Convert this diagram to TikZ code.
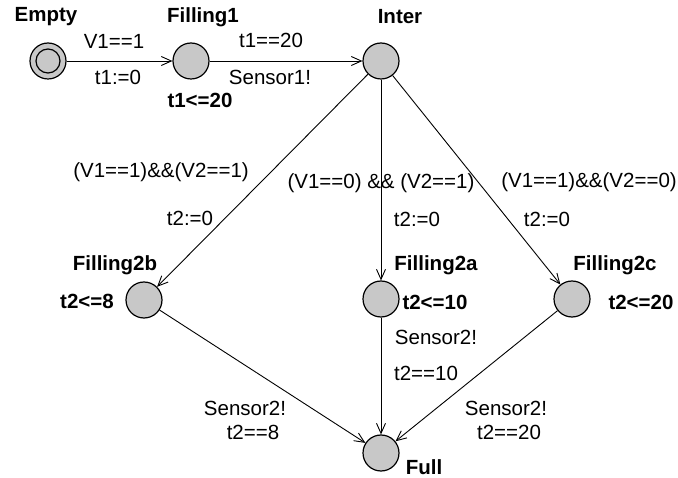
\documentclass[tikz,border=0pt]{standalone}
\usepackage{fontspec}
\setmainfont{Liberation Sans}
\usetikzlibrary{arrows.meta}
\definecolor{statefill}{RGB}{200,200,200}
\begin{document}
\begin{tikzpicture}[x=1pt,y=-1pt,
  state/.style={circle, draw, line width=1.2pt, fill=statefill, minimum size=36pt, inner sep=0pt},
  edge/.style={-{Straight Barb[length=10pt,width=9pt,line width=0.9pt]}, line width=0.9pt},
  lbl/.style={font=\fontsize{20.5}{24}\selectfont, inner sep=0pt},
  nm/.style={font=\fontsize{20.5}{24}\selectfont\bfseries, inner sep=0pt}]
\useasboundingbox (0,0) rectangle (678,478);
% states
\node[state] (Empty) at (48,61) {};
\draw[line width=1.2pt] (Empty.center) circle[radius=12pt];
\node[state] (Filling1) at (191,61) {};
\node[state] (Inter) at (381,61) {};
\node[state] (Filling2b) at (144,300) {};
\node[state] (Filling2a) at (381,299) {};
\node[state] (Filling2c) at (572,299) {};
\node[state] (Full) at (381,453) {};
% state names
\node[nm] (nEmpty) at (46,17) {Empty};
\node[nm] (nFilling1) at (203,17) {Filling1};
\node[nm] (nInter) at (400,17) {Inter};
\node[nm] (nFilling2b) at (115,265) {Filling2b};
\node[nm] (nFilling2a) at (436,265) {Filling2a};
\node[nm] (nFilling2c) at (615,265) {Filling2c};
\node[nm] (nFull) at (424,467) {Full};
% invariants
\node[nm] (iFilling1) at (200,100) {t1<=20};
\node[nm] (iFilling2b) at (87,301) {t2<=8};
\node[nm] (iFilling2a) at (435,302) {t2<=10};
\node[nm] (iFilling2c) at (641,302) {t2<=20};
% edges
\draw[edge] (Empty) -- (Filling1);
\draw[edge] (Filling1) -- (Inter);
\draw[edge] (Inter) -- (Filling2b);
\draw[edge] (Inter) -- (Filling2a);
\draw[edge] (Inter) -- (Filling2c);
\draw[edge] (Filling2b) -- (Full);
\draw[edge] (Filling2a) -- (Full);
\draw[edge] (Filling2c) -- (Full);
% edge labels
\node[lbl] (g1) at (114,41) {V1==1};
\node[lbl] (a1) at (118,77) {t1:=0};
\node[lbl] (g2) at (271,40) {t1==20};
\node[lbl] (s2) at (270,77) {Sensor1!};
\node[lbl] (g3) at (161,172) {(V1==1)\&\&(V2==1)};
\node[lbl] (a3) at (190,218) {t2:=0};
\node[lbl] (g4) at (381,183) {(V1==0) \&\& (V2==1)};
\node[lbl] (a4) at (417,219) {t2:=0};
\node[lbl] (g5) at (589,182) {(V1==1)\&\&(V2==0)};
\node[lbl] (a5) at (547,219) {t2:=0};
\node[lbl] (s6) at (436,337) {Sensor2!};
\node[lbl] (g6) at (426,373) {t2==10};
\node[lbl] (s7) at (245,408) {Sensor2!};
\node[lbl] (g7) at (253,432) {t2==8};
\node[lbl] (s8) at (506,408) {Sensor2!};
\node[lbl] (g8) at (509,432) {t2==20};
\end{tikzpicture}
\end{document}
